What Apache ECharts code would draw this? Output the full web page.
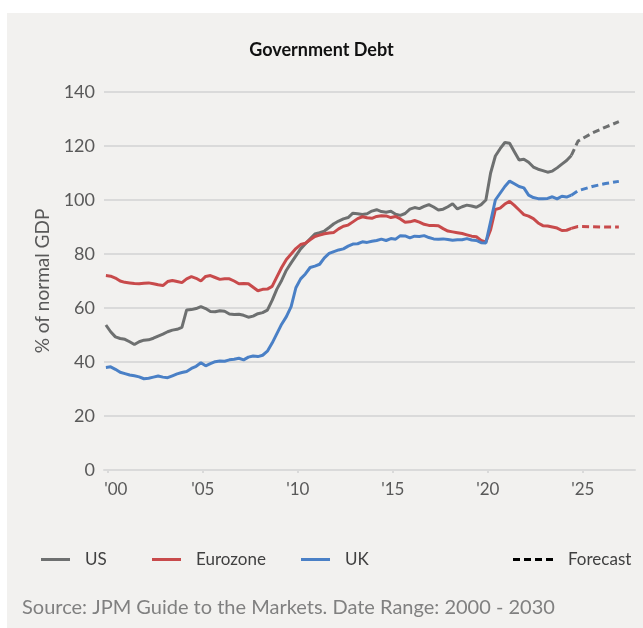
<!DOCTYPE html>
<html>
<head>
<meta charset="utf-8">
<script src="https://cdn.jsdelivr.net/npm/echarts@6/dist/echarts.min.js"></script>
<style>
  html, body { margin: 0; padding: 0; background: #ffffff; }
  #chart { width: 643px; height: 628px; }
</style>
</head>
<body>
<div id="chart"></div>
<script>
// quarterly series, first point at end of 1999
var START = 1999.9;
var usDebt = [
    53.7, 51.2, 49.3, 48.7, 48.4, 47.5, 46.5, 47.5, 48.1, 48.2,
    48.8, 49.6, 50.3, 51.2, 51.8, 52.1, 52.8, 59.3, 59.4, 59.8,
    60.5, 59.8, 58.7, 58.6, 59.0, 58.8, 57.8, 57.6, 57.7, 57.3,
    56.6, 57.0, 57.9, 58.3, 59.2, 62.8, 67.0, 70.2, 74.0, 76.7,
    79.3, 81.9, 83.8, 85.6, 87.4, 87.9, 88.5, 89.8, 91.2, 92.2,
    93.0, 93.5, 95.1, 94.9, 94.6, 94.9, 95.9, 96.4, 95.7, 95.5,
    95.8, 94.7, 94.3, 95.0, 96.6, 97.2, 96.8, 97.6, 98.3, 97.4,
    96.3, 96.6, 97.5, 98.6, 96.7, 97.5, 98.1, 97.8, 97.3, 98.3,
    100.0, 110.0, 116.3, 119.0, 121.3, 121.0, 117.9, 114.8, 115.1, 114.0,
    112.2, 111.4, 110.9, 110.3, 110.7, 111.9, 113.3, 114.6, 116.5
];
var euroDebt = [
    72.0, 71.8, 71.1, 70.0, 69.5, 69.3, 69.1, 69.0, 69.2, 69.3,
    69.0, 68.6, 68.3, 69.8, 70.2, 69.8, 69.4, 70.8, 71.6, 71.0,
    70.0, 71.7, 72.0, 71.3, 70.6, 70.8, 70.8, 70.0, 69.0, 69.1,
    69.0, 67.7, 66.4, 66.9, 67.0, 68.0, 71.5, 75.0, 78.0, 80.0,
    82.0, 83.5, 84.0, 85.3, 86.5, 87.0, 87.5, 87.8, 88.0, 89.3,
    90.3, 90.7, 91.9, 93.1, 93.8, 93.4, 93.2, 93.9, 94.2, 94.1,
    93.5, 93.9, 93.0, 91.8, 91.9, 92.4, 91.8, 91.0, 90.6, 90.6,
    90.5, 89.4, 88.5, 88.2, 87.9, 87.6, 87.1, 86.6, 86.4, 85.0,
    84.5, 89.0, 96.5, 97.0, 98.5, 99.5, 98.0, 96.3, 94.6, 94.0,
    93.1, 91.5, 90.5, 90.4, 90.0, 89.6, 88.7, 88.8, 89.5
];
var ukDebt = [
    38.0, 38.2, 37.3, 36.2, 35.7, 35.2, 34.9, 34.5, 33.8, 34.0,
    34.4, 34.8, 34.4, 34.2, 34.9, 35.6, 36.1, 36.5, 37.6, 38.4,
    39.7, 38.6, 39.4, 40.1, 40.4, 40.3, 40.8, 41.0, 41.4, 40.8,
    41.8, 42.2, 42.0, 42.5, 44.0, 47.0, 50.5, 54.0, 56.8, 60.5,
    67.5, 70.8, 72.6, 75.0, 75.5, 76.2, 78.6, 80.2, 80.9, 81.5,
    81.9, 82.9, 83.7, 83.8, 84.5, 84.3, 84.7, 85.0, 85.5, 85.0,
    85.7, 85.5, 86.8, 86.7, 86.0, 86.6, 86.5, 86.8, 86.1, 85.6,
    85.5, 85.6, 85.4, 85.1, 85.3, 85.3, 85.7, 85.2, 85.0, 84.2,
    84.1, 92.0, 100.0, 102.5, 105.0, 107.0, 106.0, 105.0, 104.5, 101.8,
    100.9, 100.5, 100.5, 100.6, 101.2, 100.4, 101.4, 101.1, 101.8
];

// forecast points
var forecastYears = [2024.4, 2024.75, 2025.5, 2026.2, 2026.9];
var usForecast    = [116.5, 121.8, 124.8, 127.0, 129.0];
var euroForecast  = [89.5, 90.2, 90.1, 90.0, 90.0];
var ukForecast    = [101.8, 103.4, 105.0, 106.1, 106.9];

var yearTicks = [2000, 2005, 2010, 2015, 2020, 2025];

var quarters = [];
for (var i = 0; i < usDebt.length; i++) {
    quarters.push(START + i * 0.25);
}

function pairs(xs, ys) {
    var out = [];
    for (var i = 0; i < ys.length; i++) out.push([xs[i], ys[i]]);
    return out;
}

var FONT = 'Lato, "Noto Sans", sans-serif';
var colUS = '#6e7070', colEZ = '#c84a4b', colUK = '#4a80c6';

function lineSeries(name, data, color, dashed) {
    return {
        name: name,
        type: 'line',
        data: data,
        showSymbol: false,
        symbol: 'none',
        silent: true,
        lineStyle: { color: color, width: 3, type: dashed ? [7, 4] : 'solid' },
        itemStyle: { color: color },
        z: dashed ? 2 : 3
    };
}

function legendItem(name, left, icon, w) {
    return {
        data: [name],
        left: left,
        top: 546,
        icon: icon,
        itemWidth: w,
        itemHeight: 3,
        selectedMode: false,
        textStyle: { color: '#404040', fontSize: 17, fontFamily: FONT, padding: [0, 0, 0, 10] }
    };
}

var chart = echarts.init(document.getElementById('chart'));
var option = {
    backgroundColor: '#ffffff',
    animation: false,
    graphic: [
        { type: 'rect', left: 7, top: 13, z: -10, silent: true,
          shape: { width: 636, height: 615 }, style: { fill: '#f2f1ef' } },
        { type: 'text', left: 22, top: 598, silent: true,
          style: { text: 'Source: JPM Guide to the Markets. Date Range: 2000 - 2030',
                   fill: '#808080', font: '20px ' + FONT } }
    ],
    title: {
        text: 'Government Debt',
        left: 'center',
        top: 36,
        textStyle: { color: '#111111', fontSize: 18, fontWeight: 'bold', fontFamily: FONT }
    },
    legend: [
        legendItem('US', 36, 'rect', 29),
        legendItem('Eurozone', 147, 'rect', 29),
        legendItem('UK', 296, 'rect', 29),
        legendItem('Forecast', 508, 'path://M0,0H7V3H0Z M11,0H18V3H11Z M22,0H29V3H22Z M33,0H40V3H33Z', 40)
    ],
    grid: { left: 104, right: 8, top: 92, bottom: 158 },
    xAxis: {
        type: 'value',
        min: 1999.8,
        max: 2027.75,
        axisLine: { show: true, lineStyle: { color: '#dadada', width: 2 } },
        axisTick: { show: true, customValues: yearTicks, length: 3, lineStyle: { color: '#dadada', width: 2 } },
        splitLine: { show: false },
        axisLabel: {
            customValues: yearTicks,
            color: '#595959',
            fontSize: 17,
            fontFamily: FONT,
            margin: 11,
            formatter: function (v) {
                var s = "'" + String(Math.round(v)).slice(2);
                return v === 2000 ? '{first|' + s + '}' : s;
            },
            rich: { first: { padding: [0, 0, 0, 16], color: '#595959', fontSize: 17, fontFamily: FONT } }
        }
    },
    yAxis: {
        type: 'value',
        min: 0,
        max: 140,
        interval: 20,
        name: '% of normal GDP',
        nameLocation: 'middle',
        nameGap: 52,
        nameTextStyle: { color: '#595959', fontSize: 19, fontFamily: FONT },
        axisLine: { show: false },
        axisTick: { show: false },
        splitLine: { lineStyle: { color: '#dadada', width: 2 } },
        axisLabel: { color: '#595959', fontSize: 18, fontFamily: FONT, margin: 9 }
    },
    series: [
        lineSeries('US', pairs(quarters, usDebt), colUS, false),
        lineSeries('Eurozone', pairs(quarters, euroDebt), colEZ, false),
        lineSeries('UK', pairs(quarters, ukDebt), colUK, false),
        lineSeries('US forecast', pairs(forecastYears, usForecast), colUS, true),
        lineSeries('Eurozone forecast', pairs(forecastYears, euroForecast), colEZ, true),
        lineSeries('UK forecast', pairs(forecastYears, ukForecast), colUK, true),
        lineSeries('Forecast', [], '#000000', true)
    ]
};
chart.setOption(option);
</script>
</body>
</html>
